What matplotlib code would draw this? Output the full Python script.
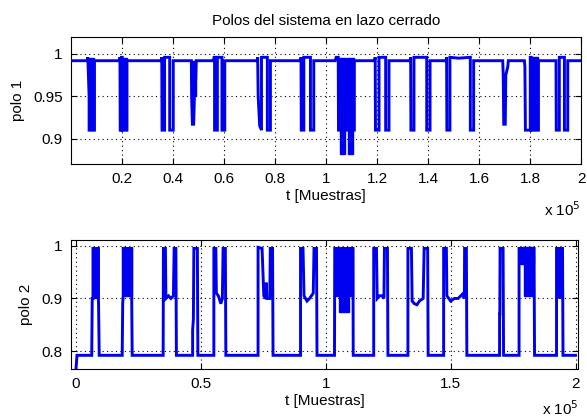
import numpy as np
import matplotlib
matplotlib.use("Agg")
from matplotlib import pyplot as plt

# polo 1: vertices of the trace (t in samples)
polo1_t = [0,
           6400, 6600, 7100, 7100, 9200, 9200,
           19000, 19200, 19300, 19700, 19800, 20100, 20100, 21900, 21900,
           35400, 35600, 35700, 36700, 36700, 38700, 38700, 40100, 40100,
           47200, 47300, 47600, 48100, 48400, 48900, 49100,
           55800, 56100, 56300, 56300, 57400, 57400, 59200, 59200, 60300, 60300,
           73000, 73200, 73400, 74000, 74700, 74700, 77000, 77000, 78200, 78200,
           90000, 90200, 90300, 91300, 91300, 93900, 93900, 95200, 95200,
           103600, 104000, 104800, 104900, 111100, 111100,
           119000, 119300, 119400, 120800, 120800, 123400, 123400, 124700, 124700,
           133000, 133200, 133300, 134500, 134500, 139500, 139500, 140800, 140800,
           147100, 147300, 147400, 148600, 148600, 152000, 156600, 156600, 157900, 157900,
           169300, 169500, 169700, 170300, 170500, 171300, 171500,
           177800, 178000, 178200, 180100, 180100, 180500, 180500, 183300, 183300,
           190200, 190300, 191500, 191500, 193500, 193500, 194800, 194800,
           200000]
polo1_v = [0.992,
           0.992, 0.996, 0.95, 0.91, 0.91, 0.992,
           0.992, 0.996, 0.91, 0.91, 0.996, 0.996, 0.91, 0.91, 0.992,
           0.992, 0.996, 0.91, 0.91, 0.996, 0.996, 0.91, 0.91, 0.992,
           0.992, 0.95, 0.917, 0.917, 0.95, 0.97, 0.992,
           0.992, 0.996, 0.996, 0.91, 0.91, 0.996, 0.996, 0.91, 0.91, 0.992,
           0.992, 0.996, 0.95, 0.915, 0.91, 0.996, 0.996, 0.91, 0.91, 0.992,
           0.992, 0.996, 0.91, 0.91, 0.996, 0.996, 0.91, 0.91, 0.992,
           0.992, 0.996, 0.996, 0.91, 0.91, 0.992,
           0.992, 0.996, 0.91, 0.91, 0.996, 0.996, 0.91, 0.91, 0.992,
           0.992, 0.996, 0.91, 0.91, 0.996, 0.996, 0.91, 0.91, 0.992,
           0.992, 0.996, 0.91, 0.91, 0.996, 0.995, 0.996, 0.91, 0.91, 0.992,
           0.992, 0.975, 0.917, 0.917, 0.975, 0.985, 0.992,
           0.992, 0.985, 0.91, 0.91, 0.996, 0.996, 0.91, 0.91, 0.992,
           0.992, 0.91, 0.91, 0.996, 0.996, 0.91, 0.91, 0.992,
           0.992]
# polo 1: dense oscillation bands (start, end, low, high)
polo1_band_ini = [7100, 20100, 47300, 105000, 105600, 108200, 108700, 180500]
polo1_band_fin = [9200, 21900, 48900, 107800, 107400, 111100, 110500, 183300]
polo1_band_lo = [0.91, 0.91, 0.95, 0.91, 0.882, 0.91, 0.882, 0.91]
polo1_band_hi = [0.995, 0.995, 0.992, 0.995, 0.91, 0.995, 0.91, 0.996]

# polo 2
polo2_t = [0, 400,
           6300, 6500, 6800, 6800, 9000, 9000, 9300,
           18500, 18700, 18900, 18900, 22300, 22300, 22500,
           34900, 35000, 35800, 36000, 37000, 38000, 39000, 39300, 40000, 40200,
           46700, 46700, 47000, 47200, 48600, 48800,
           55200, 55200, 56000, 56200, 57000, 58000, 58600, 58900, 59800, 60000,
           72900, 72900, 74500, 75200, 76000, 76200, 76400, 77600, 77800, 78700, 78900,
           89900, 89900, 90900, 91300, 92500, 93500, 95000, 95300, 96300, 96500,
           103500, 103600, 110900, 111000,
           119200, 119200, 120300, 120600, 121500, 122500, 123300, 123500, 124700, 124900,
           132900, 132900, 134300, 134600, 135500, 136500, 137500, 139000, 139400, 140800, 141000,
           147200, 147200, 148300, 148500, 150000, 151500, 153000, 154700, 155500, 155600, 156300, 156500,
           169600, 169600, 169700, 169800, 171000, 171200,
           177400, 177400, 183400, 183600,
           192400, 192400, 193200, 193400, 194000, 194200, 194800, 195000,
           200000]
polo2_v = [0.766, 0.792,
           0.792, 0.9, 0.9, 0.995, 0.995, 0.9, 0.792,
           0.792, 0.89, 0.905, 0.995, 0.995, 0.905, 0.792,
           0.792, 0.995, 0.995, 0.9, 0.905, 0.9, 0.905, 0.995, 0.995, 0.792,
           0.792, 0.84, 0.86, 0.995, 0.995, 0.792,
           0.792, 0.995, 0.995, 0.91, 0.905, 0.89, 0.9, 0.995, 0.995, 0.792,
           0.792, 0.997, 0.995, 0.905, 0.9, 0.93, 0.9, 0.9, 0.995, 0.995, 0.792,
           0.792, 0.995, 0.995, 0.905, 0.895, 0.9, 0.91, 0.995, 0.995, 0.792,
           0.792, 0.995, 0.995, 0.792,
           0.792, 0.995, 0.995, 0.9, 0.905, 0.905, 0.9, 0.995, 0.995, 0.792,
           0.792, 0.995, 0.995, 0.895, 0.89, 0.888, 0.895, 0.9, 0.995, 0.995, 0.792,
           0.792, 0.995, 0.995, 0.905, 0.895, 0.9, 0.9, 0.908, 0.9, 0.995, 0.995, 0.792,
           0.792, 0.87, 0.87, 0.995, 0.995, 0.792,
           0.792, 0.995, 0.995, 0.792,
           0.792, 0.995, 0.995, 0.9, 0.905, 0.995, 0.995, 0.792,
           0.792]
polo2_band_ini = [6800, 18900, 103600, 105200, 177600, 179500]
polo2_band_fin = [9000, 22300, 110900, 109400, 183200, 183000]
polo2_band_lo = [0.9, 0.905, 0.905, 0.875, 0.965, 0.905]
polo2_band_hi = [0.995, 0.995, 0.995, 0.905, 0.997, 0.965]

ticks1_x = [20000, 40000, 60000, 80000, 100000, 120000, 140000, 160000, 180000, 200000]
ticks1_xlab = ['0.2', '0.4', '0.6', '0.8', '1', '1.2', '1.4', '1.6', '1.8', '2']
ticks1_y = [0.9, 0.95, 1.0]
ticks1_ylab = ['0.9', '0.95', '1']
ticks2_x = [0, 50000, 100000, 150000, 200000]
ticks2_xlab = ['0', '0.5', '1', '1.5', '2']
ticks2_y = [0.8, 0.9, 1.0]
ticks2_ylab = ['0.8', '0.9', '1']

plt.rcParams['font.family'] = ['Liberation Sans', 'DejaVu Sans']
plt.rcParams['font.size'] = 11

W, H = 587, 419
fig = plt.figure(figsize=(W / 100, H / 100), dpi=100)
AZUL = '#0000f0'


def ejes(x0, y0, x1, y1):
    return fig.add_axes([x0 / W, 1 - y1 / H, (x1 - x0) / W, (y1 - y0) / H])


def dibujar(ax, t, v, ini, fin, lo, hi):
    ax.plot(t, v, color=AZUL, lw=2.1, solid_joinstyle='miter', zorder=3)
    ini = np.array(ini)
    fin = np.array(fin)
    lo = np.array(lo)
    hi = np.array(hi)
    ax.bar(ini, hi - lo, width=fin - ini, bottom=lo, align='edge',
           color=AZUL, edgecolor=AZUL, linewidth=1.0, zorder=4)
    ax.grid(True, linestyle=(0, (1, 3)), color='k', linewidth=0.8)
    ax.tick_params(direction='in', length=4, top=True, right=True, width=0.8, pad=6)
    for s in ax.spines.values():
        s.set_linewidth(0.8)


ax1 = ejes(71, 37, 581, 164)
dibujar(ax1, polo1_t, polo1_v, polo1_band_ini, polo1_band_fin, polo1_band_lo, polo1_band_hi)
ax1.set_xlim(0, 200000)
ax1.set_ylim(0.87, 1.02)
ax1.set_xticks(ticks1_x)
ax1.set_xticklabels(ticks1_xlab)
ax1.set_yticks(ticks1_y)
ax1.set_yticklabels(ticks1_ylab)
ax1.set_xlabel('t [Muestras]', labelpad=2)
ax1.set_ylabel('polo 1', labelpad=6)
ax1.set_title('Polos del sistema en lazo cerrado', fontsize=11, pad=9)

ax2 = ejes(71, 240, 578, 369)
dibujar(ax2, polo2_t, polo2_v, polo2_band_ini, polo2_band_fin, polo2_band_lo, polo2_band_hi)
ax2.set_xlim(-2000, 201000)
ax2.set_ylim(0.766, 1.011)
ax2.set_xticks(ticks2_x)
ax2.set_xticklabels(ticks2_xlab)
ax2.set_yticks(ticks2_y)
ax2.set_yticklabels(ticks2_ylab)
ax2.set_xlabel('t [Muestras]', labelpad=2)
ax2.set_ylabel('polo 2', labelpad=6)

fig.text(581 / W, 1 - 216 / H, r'x 10$^5$', ha='right', va='baseline', fontsize=11)
fig.text(579 / W, 1 - 415 / H, r'x 10$^5$', ha='right', va='baseline', fontsize=11)

fig.savefig('out.png', dpi=100)
